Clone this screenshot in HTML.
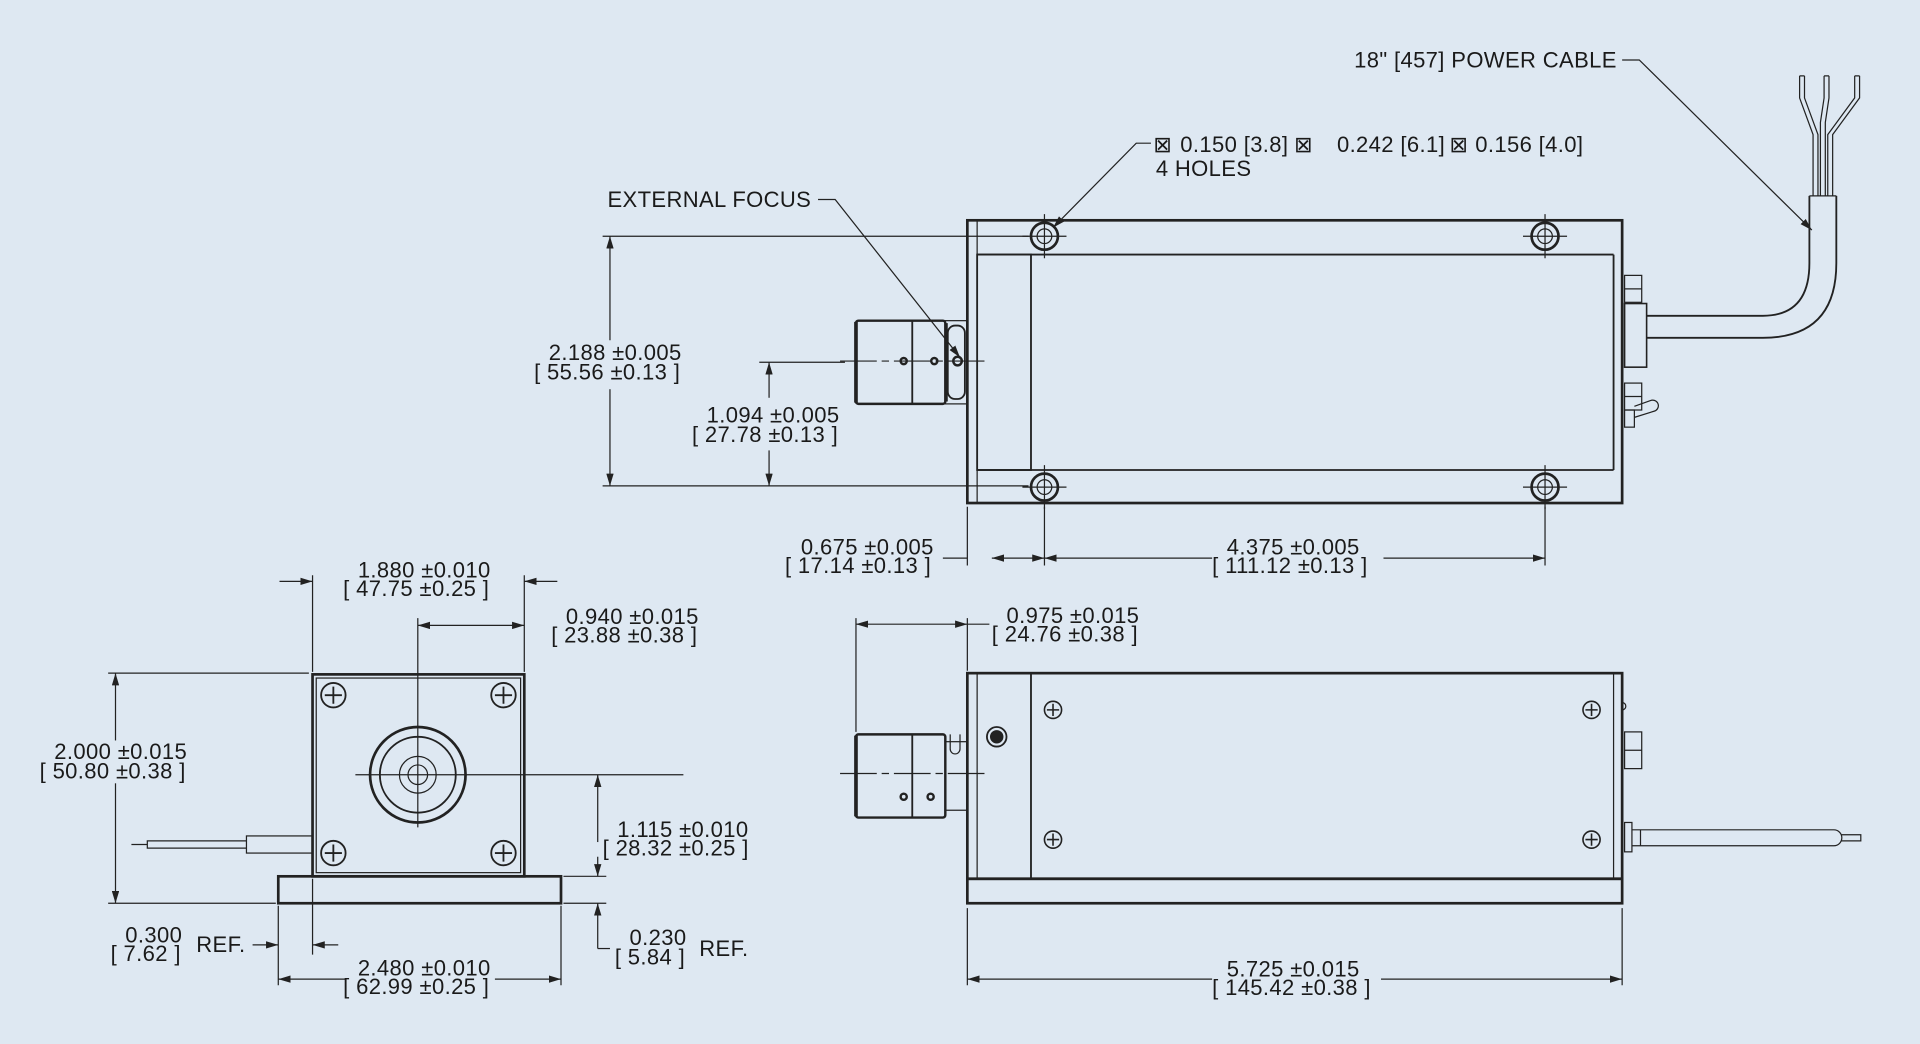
<!DOCTYPE html>
<html><head><meta charset="utf-8"><style>
html,body{margin:0;padding:0;background:#dee8f2;}
svg{display:block}
text{font-family:"Liberation Sans",sans-serif;font-size:18px;letter-spacing:0.3px;fill:#1a1a1a}
</style></head><body>
<svg width="1920" height="1044" viewBox="0 0 1568 853" xmlns="http://www.w3.org/2000/svg">
<defs>
<marker id="a" viewBox="0 0 10 6" refX="10" refY="3" markerWidth="10" markerHeight="6" orient="auto-start-reverse" markerUnits="userSpaceOnUse"><path d="M0,0L10,3L0,6z" fill="#222"/></marker>
</defs>
<rect width="1568" height="853" fill="#dee8f2"/>
<g stroke="#222" fill="none" stroke-width="1">
<rect x="790" y="180" width="535" height="231" stroke-width="2.2"/>
<line x1="798" y1="208" x2="1318" y2="208" stroke-width="1.5"/>
<line x1="798" y1="384" x2="1318" y2="384" stroke-width="1.5"/>
<line x1="798" y1="180" x2="798" y2="411"/>
<line x1="1318" y1="208" x2="1318" y2="384" stroke-width="1.5"/>
<rect x="798" y="208" width="44" height="176" stroke-width="1.5"/>
<g stroke-width="2.2">
<circle cx="853" cy="193" r="11"/><circle cx="1262" cy="193" r="11"/>
<circle cx="853" cy="398" r="11"/><circle cx="1262" cy="398" r="11"/>
</g>
<g stroke-width="1">
<circle cx="853" cy="193" r="6"/><circle cx="1262" cy="193" r="6"/>
<circle cx="853" cy="398" r="6"/><circle cx="1262" cy="398" r="6"/>
<path d="M835 193h36M853 175v36M1244 193h36M1262 175v36M835 398h36M853 380v36M1244 398h36M1262 380v36"/>
</g>
<rect x="699" y="262" width="73" height="68" rx="2" stroke-width="2"/>
<line x1="699" y1="263" x2="699" y2="329" stroke-width="3"/>
<line x1="745" y1="262" x2="745" y2="330" stroke-width="1.5"/>
<rect x="772" y="262" width="18" height="68"/>
<rect x="774" y="266" width="14" height="60" rx="6" stroke-width="1.5"/>
<line x1="773" y1="264" x2="773" y2="328" stroke-width="2"/>
<circle cx="738" cy="295" r="2.5" stroke-width="2"/>
<circle cx="763" cy="295" r="2.5" stroke-width="2"/>
<circle cx="782" cy="295" r="3.5" stroke-width="2"/>
<line x1="686" y1="295" x2="808" y2="295" stroke-dasharray="30,4,6,4"/>
<rect x="1327" y="225" width="14" height="22"/>
<line x1="1327" y1="236" x2="1341" y2="236"/>
<rect x="1327" y="248" width="18" height="52" stroke-width="1.3"/>
<rect x="1327" y="313" width="14" height="22"/>
<line x1="1327" y1="324" x2="1341" y2="324"/>
<rect x="1327" y="335" width="8" height="14"/>
<path d="M1335 332l14-5a4 4 0 0 1 2 9l-16 5"/>
<path d="M1345 258H1440Q1478 258 1478 215V160" stroke-width="1.5"/>
<path d="M1345 276H1440Q1500 276 1500 215V160" stroke-width="1.5"/>
<path d="M1478 160H1500"/>
<path d="M1481 160V110L1470 80V62M1474 62V80L1485 110V160" />
<path d="M1487 160V100L1490 80V62M1494 62V80L1491 100V160"/>
<path d="M1493 160V110L1515 80V62M1519 62V80L1497 110V160"/>
<path d="M1470 62h4M1490 62h4M1515 62h4"/>
<path d="M1325 49H1339L1480 188" marker-end="url(#a)"/>
<path d="M940 117H928L860 186" marker-end="url(#a)"/>
<path d="M668 163H682L784 292" marker-end="url(#a)"/>
<path d="M492 193H840M492 397H840M620 296H690"/>
<line x1="498" y1="193" x2="498" y2="278" marker-start="url(#a)"/>
<line x1="498" y1="318" x2="498" y2="397" marker-end="url(#a)"/>
<line x1="628" y1="296" x2="628" y2="325" marker-start="url(#a)"/>
<line x1="628" y1="368" x2="628" y2="397" marker-end="url(#a)"/>
<path d="M790 414V462M853 414V462M1262 414V462"/>
<line x1="770" y1="456" x2="790" y2="456"/>
<line x1="810" y1="456" x2="853" y2="456" marker-start="url(#a)" marker-end="url(#a)"/>
<line x1="853" y1="456" x2="990" y2="456" marker-start="url(#a)"/>
<line x1="1130" y1="456" x2="1262" y2="456" marker-end="url(#a)"/>
<rect x="790" y="550" width="535" height="168" stroke-width="2.2"/>
<rect x="790" y="718" width="535" height="20" stroke-width="2.2"/>
<line x1="798" y1="550" x2="798" y2="718"/>
<line x1="842" y1="550" x2="842" y2="718" stroke-width="1.5"/>
<line x1="1318" y1="550" x2="1318" y2="718"/>
<g stroke-width="1.3">
<circle cx="860" cy="580" r="7"/><circle cx="1300" cy="580" r="7"/>
<circle cx="860" cy="686" r="7"/><circle cx="1300" cy="686" r="7"/>
<path d="M855 580h10M860 575v10M1295 580h10M1300 575v10M855 686h10M860 681v10M1295 686h10M1300 681v10"/>
</g>
<circle cx="814" cy="602" r="8" stroke-width="1.5"/>
<circle cx="814" cy="602" r="5" fill="#222"/>
<path d="M776 600v12a4 4 0 0 0 8 0v-12"/>
<rect x="699" y="600" width="73" height="68" rx="2" stroke-width="2"/>
<line x1="699" y1="601" x2="699" y2="667" stroke-width="3"/>
<line x1="745" y1="600" x2="745" y2="668" stroke-width="1.5"/>
<rect x="772" y="606" width="18" height="56"/>
<circle cx="738" cy="651" r="2.5" stroke-width="2"/>
<circle cx="760" cy="651" r="2.5" stroke-width="2"/>
<line x1="686" y1="632" x2="806" y2="632" stroke-dasharray="30,4,6,4"/>
<rect x="1327" y="598" width="14" height="30"/>
<line x1="1327" y1="613" x2="1341" y2="613"/>
<path d="M1325 574a3 3 0 0 1 0 6"/>
<rect x="1327" y="672" width="6" height="24"/>
<path d="M1333 678h165a6 6 0 0 1 0 13H1333M1340 678v13"/>
<path d="M1504 682h16v5h-16"/>
<path d="M699 505V598M790 505V548"/>
<line x1="699" y1="510" x2="790" y2="510" marker-start="url(#a)" marker-end="url(#a)"/>
<line x1="790" y1="510" x2="808" y2="510"/>
<path d="M790 742V805M1325 742V805"/>
<line x1="790" y1="800" x2="990" y2="800" marker-start="url(#a)"/>
<line x1="1128" y1="800" x2="1325" y2="800" marker-end="url(#a)"/>
<rect x="255" y="551" width="173" height="165" stroke-width="2.2"/>
<rect x="258" y="554" width="167" height="159"/>
<rect x="227" y="716" width="231" height="22" stroke-width="2.2"/>
<g stroke-width="1.5">
<circle cx="272" cy="568" r="10"/><circle cx="411" cy="568" r="10"/>
<circle cx="272" cy="697" r="10"/><circle cx="411" cy="697" r="10"/>
<path d="M265 568h14M272 561v14M404 568h14M411 561v14M265 697h14M272 690v14M404 697h14M411 690v14"/>
</g>
<circle cx="341" cy="633" r="39" stroke-width="2.2"/>
<circle cx="341" cy="633" r="31" stroke-width="1.5"/>
<circle cx="341" cy="633" r="15"/>
<circle cx="341" cy="633" r="8"/>
<path d="M290 633H558M341 505V676"/>
<rect x="201" y="683" width="54" height="14"/>
<path d="M201 687H120V693H201M107 690h13"/>
<path d="M255 470V549M428 470V549M227 740V805M458 740V805M255 718V780"/>
<line x1="228" y1="475" x2="255" y2="475" marker-end="url(#a)"/>
<line x1="428" y1="475" x2="455" y2="475" marker-start="url(#a)"/>
<line x1="341" y1="511" x2="428" y2="511" marker-start="url(#a)" marker-end="url(#a)"/>
<path d="M88 550H252"/>
<line x1="94" y1="550" x2="94" y2="605" marker-start="url(#a)"/>
<line x1="94" y1="640" x2="94" y2="738" marker-end="url(#a)"/>
<path d="M88 738H225"/>
<line x1="488" y1="633" x2="488" y2="688" marker-start="url(#a)"/>
<line x1="488" y1="700" x2="488" y2="716" marker-end="url(#a)"/>
<path d="M460 716H495M460 738H495"/>
<line x1="488" y1="738" x2="488" y2="775" marker-start="url(#a)"/>
<path d="M488 775H498"/>
<line x1="206" y1="772" x2="227" y2="772" marker-end="url(#a)"/>
<line x1="276" y1="772" x2="255" y2="772" marker-end="url(#a)"/>
<line x1="227" y1="800" x2="282" y2="800" marker-start="url(#a)"/>
<line x1="404" y1="800" x2="458" y2="800" marker-end="url(#a)"/>
</g>
<text x="1106" y="55">18" [457] POWER CABLE</text>
<text x="942" y="124">⊠</text><text x="964" y="124">0.150 [3.8]</text>
<text x="1057" y="124">⊠</text><text x="1092" y="124">0.242 [6.1]</text>
<text x="1184" y="124">⊠</text><text x="1205" y="124">0.156 [4.0]</text>
<text x="944" y="144">4 HOLES</text>
<text x="496" y="169">EXTERNAL FOCUS</text>
<text x="448" y="294">2.188 ±0.005</text>
<text x="436" y="310">[ 55.56 ±0.13 ]</text>
<text x="577" y="345">1.094 ±0.005</text>
<text x="565" y="361">[ 27.78 ±0.13 ]</text>
<text x="654" y="453">0.675 ±0.005</text>
<text x="641" y="468">[ 17.14 ±0.13 ]</text>
<text x="1002" y="453">4.375 ±0.005</text>
<text x="990" y="468">[ 111.12 ±0.13 ]</text>
<text x="292" y="472">1.880 ±0.010</text>
<text x="280" y="487">[ 47.75 ±0.25 ]</text>
<text x="462" y="510">0.940 ±0.015</text>
<text x="450" y="525">[ 23.88 ±0.38 ]</text>
<text x="822" y="509">0.975 ±0.015</text>
<text x="810" y="524">[ 24.76 ±0.38 ]</text>
<text x="44" y="620">2.000 ±0.015</text>
<text x="32" y="636">[ 50.80 ±0.38 ]</text>
<text x="504" y="684">1.115 ±0.010</text>
<text x="492" y="699">[ 28.32 ±0.25 ]</text>
<text x="102" y="770">0.300</text>
<text x="90" y="785">[ 7.62 ]</text>
<text x="160" y="778">REF.</text>
<text x="514" y="772">0.230</text>
<text x="502" y="788">[ 5.84 ]</text>
<text x="571" y="781">REF.</text>
<text x="292" y="797">2.480 ±0.010</text>
<text x="280" y="812">[ 62.99 ±0.25 ]</text>
<text x="1002" y="798">5.725 ±0.015</text>
<text x="990" y="813">[ 145.42 ±0.38 ]</text>
</svg>
</body></html>
